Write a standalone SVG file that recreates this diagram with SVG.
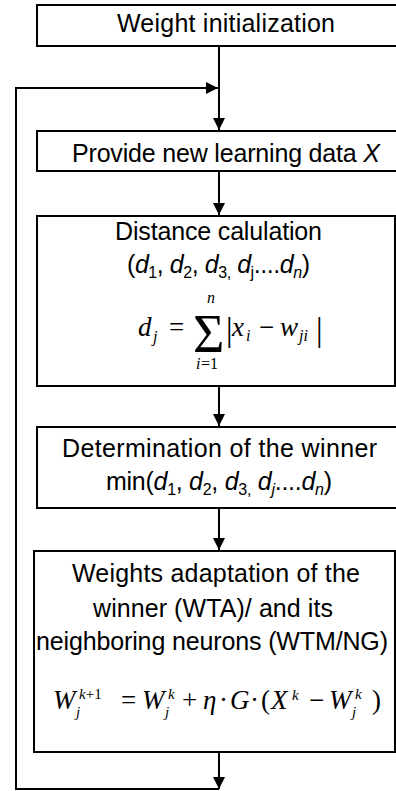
<svg xmlns="http://www.w3.org/2000/svg" width="396" height="791" viewBox="0 0 396 791">
<defs>
<style>
.box{fill:#fff;stroke:#000;stroke-width:2}
.t{font-family:"Liberation Sans",Arial,sans-serif;font-size:25px;fill:#000}
.m{font-family:"Liberation Serif","Times New Roman",serif;font-size:27px;font-style:italic;fill:#000}
.r{font-style:normal}
.s{font-size:16px}
.ss{font-size:15px}
.i{font-style:italic}
.c{fill:none;stroke:#000;stroke-width:2}
</style>
<marker id="ah" markerUnits="userSpaceOnUse" markerWidth="12" markerHeight="12" viewBox="0 0 12 12" refX="12" refY="6" orient="auto">
<path d="M0,0 L12,6 L0,12 Z" fill="#000"/>
</marker>
</defs>
<rect width="396" height="791" fill="#fff"/>
<g id="connectors">
<line class="c" x1="219" y1="46" x2="219" y2="130" marker-end="url(#ah)"/>
<line class="c" x1="219" y1="171" x2="219" y2="215" marker-end="url(#ah)"/>
<line class="c" x1="219" y1="386" x2="219" y2="426" marker-end="url(#ah)"/>
<line class="c" x1="219" y1="508" x2="219" y2="550" marker-end="url(#ah)"/>
<line class="c" x1="219" y1="752" x2="219" y2="789" marker-end="url(#ah)"/>
<polyline class="c" points="219,789 16,789 16,88 218,88" marker-end="url(#ah)"/>
</g>
<g id="n1">
<rect class="box" x="37" y="5" width="370" height="41"/>
<text class="t" x="117" y="32" textLength="218">Weight initialization</text>
</g>
<g id="n2">
<rect class="box" x="37" y="131" width="370" height="40"/>
<text class="t" x="72" y="162" textLength="308">Provide new learning data <tspan class="i">X</tspan></text>
</g>
<g id="n3">
<rect class="box" x="37" y="216" width="358" height="170"/>
<text class="t" x="115" y="240" textLength="207">Distance calulation</text>
<text class="t" x="127" y="273" textLength="183">(<tspan class="i">d</tspan><tspan class="s" dy="5">1</tspan><tspan dy="-5">, </tspan><tspan class="i">d</tspan><tspan class="s" dy="5">2</tspan><tspan dy="-5">, </tspan><tspan class="i">d</tspan><tspan class="s" dy="5">3,</tspan><tspan dy="-5"> </tspan><tspan class="i">d</tspan><tspan class="s" dy="5">j</tspan><tspan dy="-5">....</tspan><tspan class="i">d</tspan><tspan class="s i" dy="5">n</tspan><tspan dy="-5">)</tspan></text>
<text class="m"><tspan x="138" y="336">d</tspan><tspan class="s" x="153" y="342">j</tspan><tspan class="r" x="169" y="336">=</tspan><tspan class="r" x="193" y="352" style="font-size:54px">Σ</tspan><tspan class="s" x="207" y="303">n</tspan><tspan class="s" x="196" y="369">i</tspan><tspan class="s r" x="201" y="369">=1</tspan><tspan class="r" x="226" y="341" style="font-size:33px">|</tspan><tspan x="232" y="336">x</tspan><tspan class="s" x="246" y="341">i</tspan><tspan class="r" x="259" y="336">−</tspan><tspan x="280" y="336">w</tspan><tspan class="s" x="299" y="341">ji</tspan><tspan class="r" x="316" y="341" style="font-size:33px">|</tspan></text>
</g>
<g id="n4">
<rect class="box" x="37" y="427" width="370" height="81"/>
<text class="t" x="62" y="457" textLength="315">Determination of the winner</text>
<text class="t" x="106" y="490" textLength="226">min(<tspan class="i">d</tspan><tspan class="s" dy="5">1</tspan><tspan dy="-5">, </tspan><tspan class="i">d</tspan><tspan class="s" dy="5">2</tspan><tspan dy="-5">, </tspan><tspan class="i">d</tspan><tspan class="s" dy="5">3,</tspan><tspan dy="-5"> </tspan><tspan class="i">d</tspan><tspan class="s i" dy="5">j</tspan><tspan dy="-5">....</tspan><tspan class="i">d</tspan><tspan class="s i" dy="5">n</tspan><tspan dy="-5">)</tspan></text>
</g>
<g id="n5">
<rect class="box" x="34" y="551" width="361" height="201"/>
<text class="t" x="72" y="582" textLength="288">Weights adaptation  of the</text>
<text class="t" x="93" y="617" textLength="240">winner (WTA)/ and its</text>
<text class="t" x="36" y="650" textLength="352">neighboring neurons (WTM/NG)</text>
<text class="m"><tspan x="53" y="709">W</tspan><tspan class="ss" x="76" y="717">j</tspan><tspan class="ss" x="79" y="699">k</tspan><tspan class="ss r">+1</tspan><tspan class="r" x="121" y="709">=</tspan><tspan x="142" y="709">W</tspan><tspan class="ss" x="165" y="717">j</tspan><tspan class="ss" x="168" y="699">k</tspan><tspan class="r" x="182" y="709">+</tspan><tspan x="203" y="709">η</tspan><tspan class="r" x="219" y="709">·</tspan><tspan x="230" y="709">G</tspan><tspan class="r" x="250" y="709">·</tspan><tspan class="r" x="261" y="709">(</tspan><tspan x="271" y="709">X</tspan><tspan class="ss" x="292" y="700">k</tspan><tspan class="r" x="309" y="709">−</tspan><tspan x="329" y="709">W</tspan><tspan class="ss" x="352" y="717">j</tspan><tspan class="ss" x="355" y="699">k</tspan><tspan class="r" x="372" y="709">)</tspan></text>
</g>
</svg>
